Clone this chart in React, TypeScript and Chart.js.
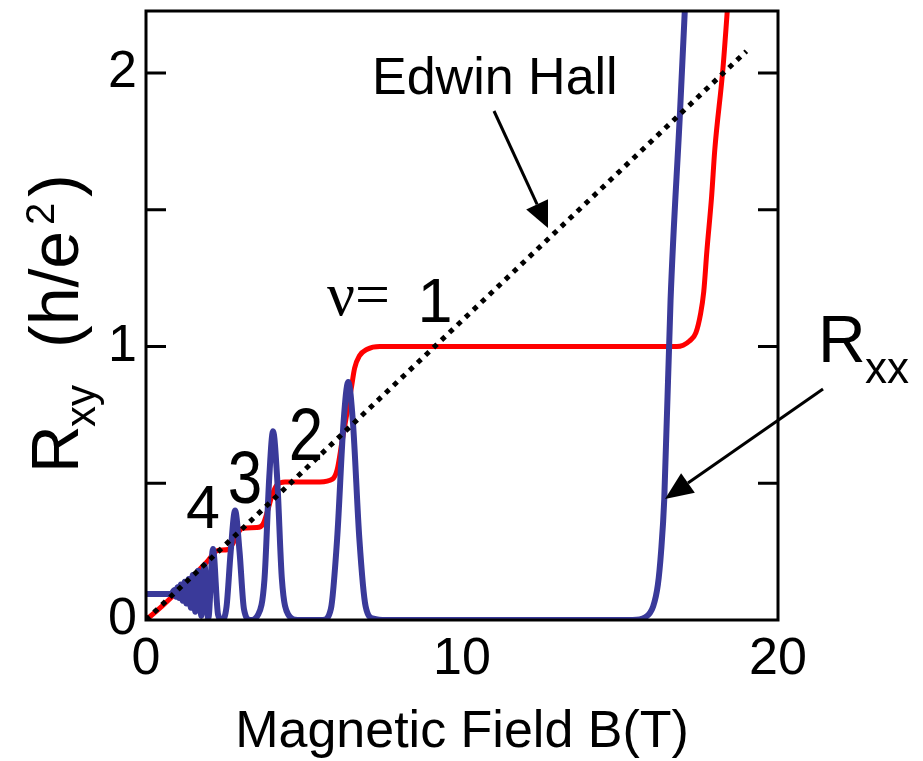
import React, { useEffect, useRef } from 'react';
import { Chart, registerables } from 'chart.js';

Chart.register(...registerables);

// Hall resistance R_xy (h/e^2) vs magnetic field B (T)
const rxyB = [0, 0.5, 1.0, 1.4, 1.7, 1.95, 2.15, 2.3, 2.6, 2.75, 2.9, 3.05, 3.5, 3.7, 3.85, 4.0, 4.15, 4.4, 5.5, 5.9, 6.05, 6.2, 6.35, 6.5, 6.6, 6.75, 7.0, 7.4, 16.8, 17.0, 17.2, 17.4, 17.55, 17.65, 17.75, 17.9, 18.0, 18.26, 18.5];
const rxyR = [0, 0.05, 0.105, 0.15, 0.185, 0.215, 0.245, 0.255, 0.258, 0.28, 0.315, 0.335, 0.338, 0.35, 0.4, 0.46, 0.495, 0.505, 0.505, 0.515, 0.55, 0.65, 0.75, 0.85, 0.92, 0.965, 0.99, 1.0, 1.0, 1.005, 1.02, 1.05, 1.12, 1.2, 1.35, 1.55, 1.72, 2.02, 2.4];

// Longitudinal resistance R_xx
const rxxB = [0, 0.5, 0.8, 0.9, 0.95, 1.0, 1.05, 1.1, 1.16, 1.22, 1.28, 1.35, 1.42, 1.48, 1.56, 1.65, 1.75, 1.85, 1.97, 2.12, 2.28, 2.4, 2.55, 2.68, 2.82, 2.96, 3.1, 3.3, 3.55, 3.75, 3.9, 4.02, 4.15, 4.3, 4.5, 4.8, 5.6, 5.85, 6.05, 6.25, 6.4, 6.55, 6.75, 6.95, 7.2, 7.6, 15.4, 15.8, 16.05, 16.2, 16.3, 16.4, 16.6, 16.9, 17.1];
const rxxR = [0.095, 0.095, 0.095, 0.11, 0.085, 0.12, 0.08, 0.13, 0.07, 0.14, 0.06, 0.15, 0.045, 0.165, 0.03, 0.18, 0.015, 0.2, 0.005, 0.26, 0.02, 0.0, 0.05, 0.25, 0.4, 0.25, 0.04, 0.0, 0.02, 0.15, 0.52, 0.69, 0.52, 0.15, 0.02, 0.0, 0.0, 0.04, 0.3, 0.72, 0.87, 0.72, 0.3, 0.05, 0.005, 0, 0, 0.01, 0.05, 0.13, 0.25, 0.44, 1.17, 1.86, 2.35];

// Classical (Edwin Hall) line
const hallB = [0, 19];
const hallR = [0, 2.08];

const xMin = 0;
const xMax = 20;
const xStep = 10;
const yMin = 0;
const yMax = 2.227;
const yLabelValues = [0, 1, 2];
const yTickMarks = [0.5, 1, 1.5, 2];

const FONT = '"Liberation Sans", Arial, Helvetica, sans-serif';

function drawArrow(ctx: CanvasRenderingContext2D, x1: number, y1: number, x2: number, y2: number, head: number, half: number) {
  const a = Math.atan2(y2 - y1, x2 - x1);
  const bx = x2 - head * Math.cos(a);
  const by = y2 - head * Math.sin(a);
  ctx.beginPath();
  ctx.moveTo(x1, y1);
  ctx.lineTo(bx, by);
  ctx.stroke();
  ctx.beginPath();
  ctx.moveTo(x2, y2);
  ctx.lineTo(bx + half * Math.sin(a), by - half * Math.cos(a));
  ctx.lineTo(bx - half * Math.sin(a), by + half * Math.cos(a));
  ctx.closePath();
  ctx.fill();
}

function text(ctx: CanvasRenderingContext2D, s: string, x: number, y: number, size: number, align: CanvasTextAlign = 'left', sy = 1, family = FONT) {
  ctx.save();
  ctx.translate(x, y);
  ctx.scale(1, sy);
  ctx.font = `${size}px ${family}`;
  ctx.textAlign = align;
  ctx.textBaseline = 'alphabetic';
  ctx.fillStyle = '#000';
  ctx.fillText(s, 0, 0);
  ctx.restore();
}

const decorPlugin = {
  id: 'decor',
  afterDatasetsDraw(chart: any) {
    const ctx: CanvasRenderingContext2D = chart.ctx;
    const { left, right, top, bottom } = chart.chartArea;
    const ys = chart.scales.y;
    ctx.save();
    ctx.strokeStyle = '#000';
    ctx.fillStyle = '#000';
    ctx.lineWidth = 3;
    ctx.strokeRect(left, top, right - left, bottom - top);
    yTickMarks.forEach((v) => {
      const p = ys.getPixelForValue(v);
      ctx.beginPath();
      ctx.moveTo(left, p);
      ctx.lineTo(left + 20, p);
      ctx.moveTo(right, p);
      ctx.lineTo(right - 20, p);
      ctx.stroke();
    });

    // Y axis title: R_xy (h/e^2)
    ctx.save();
    ctx.translate(78, 473);
    ctx.rotate(-Math.PI / 2);
    ctx.fillStyle = '#000';
    ctx.textBaseline = 'alphabetic';
    ctx.textAlign = 'left';
    ctx.font = `66px ${FONT}`;
    ctx.fillText('R', 0, 0);
    ctx.font = `42px ${FONT}`;
    ctx.fillText('xy', 46, 17);
    ctx.font = `68px ${FONT}`;
    ctx.fillText('(h/e', 125, 0);
    ctx.font = `40px ${FONT}`;
    ctx.fillText('2', 248, -24);
    ctx.font = `68px ${FONT}`;
    ctx.fillText(')', 276, 0);
    ctx.restore();

    // Annotations
    text(ctx, 'Edwin Hall', 372, 94, 52);
    ctx.lineWidth = 3;
    drawArrow(ctx, 494, 111, 548, 228, 26, 12);

    text(ctx, 'R', 818, 362, 66);
    text(ctx, 'xx', 865, 383, 44);
    drawArrow(ctx, 823, 389, 665, 499, 28, 12);

    text(ctx, 'ν=', 327, 315, 62, 'left', 1, '"Liberation Serif", "Times New Roman", serif');
    text(ctx, '1', 435, 322, 63, 'center');
    text(ctx, '2', 306, 460, 62, 'center', 1.2);
    text(ctx, '3', 245, 503, 62, 'center', 1.2);
    text(ctx, '4', 203, 528, 61, 'center');
    ctx.restore();
  },
};

export default function App() {
  const ref = useRef<HTMLCanvasElement | null>(null);
  useEffect(() => {
    if (!ref.current) return;
    const toPts = (xs: number[], ys: number[]) => xs.map((x, i) => ({ x, y: ys[i] }));
    const chart = new Chart(ref.current, {
      type: 'line',
      data: {
        datasets: [
          {
            label: 'Edwin Hall',
            data: toPts(hallB, hallR),
            borderColor: '#000',
            borderWidth: 5,
            borderDash: [5, 6],
            pointRadius: 0,
            fill: false,
            order: 0,
          },
          {
            label: 'Rxx',
            data: toPts(rxxB, rxxR),
            borderColor: '#3a3a9a',
            borderWidth: 6,
            pointRadius: 0,
            cubicInterpolationMode: 'monotone',
            fill: false,
            order: 1,
          },
          {
            label: 'Rxy',
            data: toPts(rxyB, rxyR),
            borderColor: '#ff0000',
            borderWidth: 5,
            pointRadius: 0,
            cubicInterpolationMode: 'monotone',
            fill: false,
            order: 2,
          },
        ],
      },
      options: {
        animation: false,
        responsive: true,
        maintainAspectRatio: false,
        events: [],
        layout: { padding: { left: 0, top: 11, right: 145, bottom: 0 } },
        plugins: { legend: { display: false }, tooltip: { enabled: false } },
        scales: {
          x: {
            type: 'linear',
            min: xMin,
            max: xMax,
            grid: { display: false, drawTicks: false },
            border: { display: false },
            ticks: {
              stepSize: xStep,
              color: '#000',
              font: { family: FONT, size: 52 },
              padding: 8,
              maxRotation: 0,
            },
            title: {
              display: true,
              text: 'Magnetic Field B(T)',
              color: '#000',
              font: { family: FONT, size: 52, lineHeight: 1.1 },
              padding: 0,
            },
            afterFit: (s: any) => {
              s.height = 141;
            },
          },
          y: {
            type: 'linear',
            min: yMin,
            max: yMax,
            grid: { display: false, drawTicks: false },
            border: { display: false },
            ticks: {
              stepSize: 0.5,
              color: '#000',
              font: { family: FONT, size: 52, lineHeight: 0.05 },
              padding: 9,
              callback: (v: any) => (yLabelValues.includes(v) ? String(v) : ''),
            },
            afterFit: (s: any) => {
              s.width = 146;
            },
          },
        },
      },
      plugins: [decorPlugin],
    });
    return () => chart.destroy();
  }, []);
  return (
    <div style={{ position: 'absolute', left: 0, top: 0, width: 923, height: 761, background: '#fff' }}>
      <canvas ref={ref} />
    </div>
  );
}
